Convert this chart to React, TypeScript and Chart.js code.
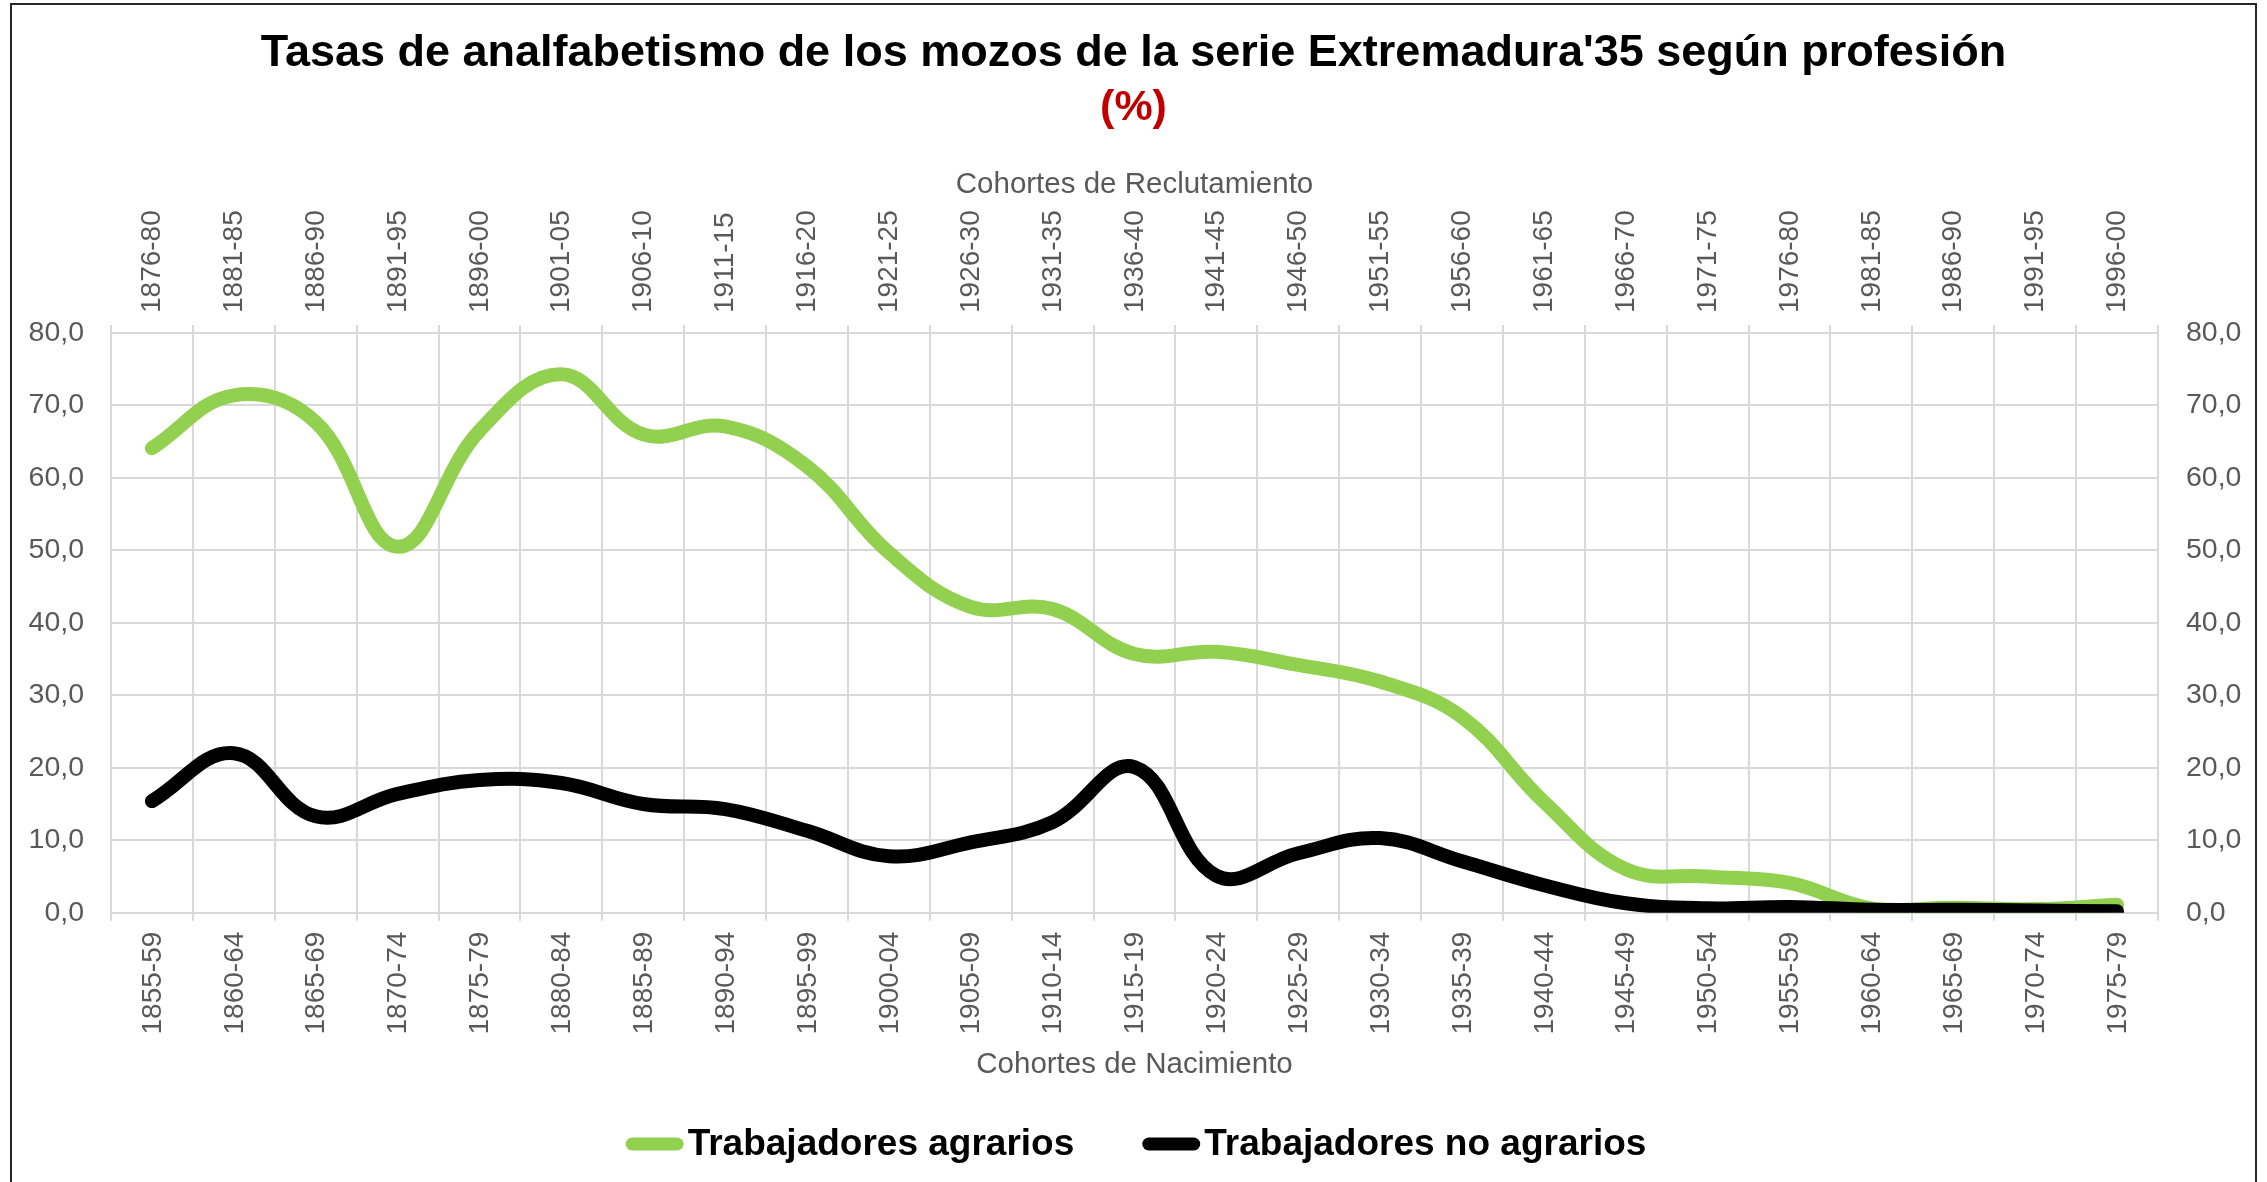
import React, { useEffect, useRef } from "react";
import { Chart, registerables } from "chart.js";

Chart.register(...registerables);

const birthCohorts = [
  "1855-59", "1860-64", "1865-69", "1870-74", "1875-79", "1880-84", "1885-89",
  "1890-94", "1895-99", "1900-04", "1905-09", "1910-14", "1915-19", "1920-24",
  "1925-29", "1930-34", "1935-39", "1940-44", "1945-49", "1950-54", "1955-59",
  "1960-64", "1965-69", "1970-74", "1975-79",
];

const recruitCohorts = [
  "1876-80", "1881-85", "1886-90", "1891-95", "1896-00", "1901-05", "1906-10",
  "1911-15", "1916-20", "1921-25", "1926-30", "1931-35", "1936-40", "1941-45",
  "1946-50", "1951-55", "1956-60", "1961-65", "1966-70", "1971-75", "1976-80",
  "1981-85", "1986-90", "1991-95", "1996-00",
];

const agrarios = [
  64.1, 71.4, 67.7, 50.5, 66.5, 74.3, 66.0, 67.1, 61.6, 49.7, 42.2, 41.9, 35.7,
  36.0, 34.2, 31.9, 27.0, 15.3, 6.0, 5.0, 4.1, 0.6, 0.7, 0.5, 1.1,
];

const noAgrarios = [
  15.4, 22.0, 13.3, 16.4, 18.3, 17.9, 15.0, 14.3, 11.3, 7.8, 9.7, 12.5, 20.1,
  5.1, 8.2, 10.3, 7.1, 3.8, 1.3, 0.6, 0.8, 0.4, 0.4, 0.3, 0.2,
];

const yTicks = [0, 10, 20, 30, 40, 50, 60, 70, 80];

const FONT = '"Liberation Sans", Arial, sans-serif';
const GRID = "#D9D9D9";
const TXT = "#595959";

const frame = {
  id: "frame",
  beforeDraw(chart: any) {
    const ctx = chart.ctx;
    ctx.save();
    ctx.fillStyle = "#ffffff";
    ctx.fillRect(0, 0, chart.width, chart.height);
    ctx.strokeStyle = "#262626";
    ctx.lineWidth = 2;
    ctx.strokeRect(11, 4, 2245, 1200);
    ctx.restore();
  },
};

const customLegend = {
  id: "customLegend",
  afterDraw(chart: any) {
    const ctx = chart.ctx;
    ctx.save();
    ctx.font = `bold 37px ${FONT}`;
    const items = chart.data.datasets.map((d: any) => ({ text: d.label, color: d.borderColor }));
    const markerLen = 58;
    const lw = 13;
    const gap = 4;
    const between = 68;
    const widths = items.map((it: any) => markerLen + gap + ctx.measureText(it.text).width);
    const total = widths.reduce((a: number, b: number) => a + b, 0) + between * (items.length - 1);
    let x = 1136 - total / 2;
    const y = 1144;
    items.forEach((it: any, i: number) => {
      ctx.strokeStyle = it.color;
      ctx.lineWidth = lw;
      ctx.lineCap = "round";
      ctx.beginPath();
      ctx.moveTo(x + lw / 2, y);
      ctx.lineTo(x + markerLen - lw / 2, y);
      ctx.stroke();
      ctx.fillStyle = "#000000";
      ctx.textAlign = "left";
      ctx.textBaseline = "middle";
      ctx.fillText(it.text, x + markerLen + gap, y + 1);
      x += widths[i] + between;
    });
    ctx.restore();
  },
};

const fmt = (v: any) => Number(v).toFixed(1).replace(".", ",");

export default function App() {
  const ref = useRef<HTMLCanvasElement | null>(null);

  useEffect(() => {
    if (!ref.current) return;
    const tickFont = { family: FONT, size: 28, lineHeight: 1.2 };
    const yFont = { family: FONT, size: 28.5 };
    const axisTitleFont = { family: FONT, size: 29.5, lineHeight: 1.2 };
    const chart = new Chart(ref.current, {
      type: "line",
      data: {
        labels: birthCohorts,
        datasets: [
          {
            label: "Trabajadores agrarios",
            data: agrarios,
            borderColor: "#92D050",
            backgroundColor: "#92D050",
            borderWidth: 14,
            pointRadius: 0,
            tension: 0.4,
            borderCapStyle: "round",
            borderJoinStyle: "round",
            order: 1,
            xAxisID: "x",
            yAxisID: "y",
          },
          {
            label: "Trabajadores no agrarios",
            data: noAgrarios,
            borderColor: "#000000",
            backgroundColor: "#000000",
            borderWidth: 14,
            pointRadius: 0,
            tension: 0.4,
            borderCapStyle: "round",
            borderJoinStyle: "round",
            order: 0,
            xAxisID: "x",
            yAxisID: "y",
          },
        ],
      },
      options: {
        responsive: false,
        animation: false,
        devicePixelRatio: 1,
        layout: { padding: { left: 0, right: 0, top: 0, bottom: 95 } },
        plugins: {
          legend: { display: false },
          tooltip: { enabled: false },
          title: {
            display: true,
            text: "Tasas de analfabetismo de los mozos de la serie Extremadura'35 según profesión",
            color: "#000000",
            font: { family: FONT, size: 45, weight: "bold", lineHeight: 1.2 },
            padding: { top: 27, bottom: 0 },
          },
          subtitle: {
            display: true,
            text: "(%)",
            color: "#C00000",
            font: { family: FONT, size: 43, weight: "bold", lineHeight: 1.2 },
            padding: { top: 1, bottom: 0 },
          },
        },
        scales: {
          x: {
            type: "category",
            position: "bottom",
            offset: true,
            grid: { offset: true, color: GRID, lineWidth: 2, tickLength: 8, drawTicks: true },
            border: { color: GRID, width: 2 },
            ticks: {
              minRotation: 90,
              maxRotation: 90,
              autoSkip: false,
              padding: 11,
              labelOffset: 1,
              color: TXT,
              font: tickFont,
            },
            title: {
              display: true,
              text: "Cohortes de Nacimiento",
              color: TXT,
              font: axisTitleFont,
              padding: { top: 0, bottom: 4.3 },
            },
            afterFit: (s: any) => {
              s.height = 174.3;
            },
          },
          x2: {
            type: "category",
            labels: recruitCohorts,
            position: "top",
            offset: true,
            grid: { offset: true, drawOnChartArea: false, color: GRID, lineWidth: 2, tickLength: 8, drawTicks: true },
            border: { display: false },
            ticks: {
              minRotation: 90,
              maxRotation: 90,
              autoSkip: false,
              padding: 12,
              labelOffset: 34,
              color: TXT,
              font: tickFont,
            },
            title: {
              display: true,
              text: "Cohortes de Reclutamiento",
              color: TXT,
              font: axisTitleFont,
              padding: { top: 33.7, bottom: 0 },
            },
            afterFit: (s: any) => {
              s.height = 199.4;
            },
          },
          y: {
            position: "left",
            min: yTicks[0],
            max: yTicks[yTicks.length - 1],
            grid: { color: GRID, lineWidth: 2, drawTicks: false },
            border: { color: GRID, width: 2 },
            ticks: { stepSize: 10, padding: 27, color: TXT, font: yFont, callback: fmt },
            afterFit: (s: any) => {
              s.width = 111;
            },
          },
          y2: {
            position: "right",
            min: yTicks[0],
            max: yTicks[yTicks.length - 1],
            grid: { drawOnChartArea: false, drawTicks: false },
            border: { color: GRID, width: 2 },
            ticks: { stepSize: 10, padding: 28, color: TXT, font: yFont, callback: fmt },
            afterFit: (s: any) => {
              s.width = 109;
            },
          },
        },
      },
      plugins: [frame, customLegend],
    } as any);
    return () => chart.destroy();
  }, []);

  return (
    <div style={{ position: "absolute", left: 0, top: 0, width: 2267, height: 1182 }}>
      <canvas ref={ref} width={2267} height={1182} style={{ display: "block", width: 2267, height: 1182 }} />
    </div>
  );
}
